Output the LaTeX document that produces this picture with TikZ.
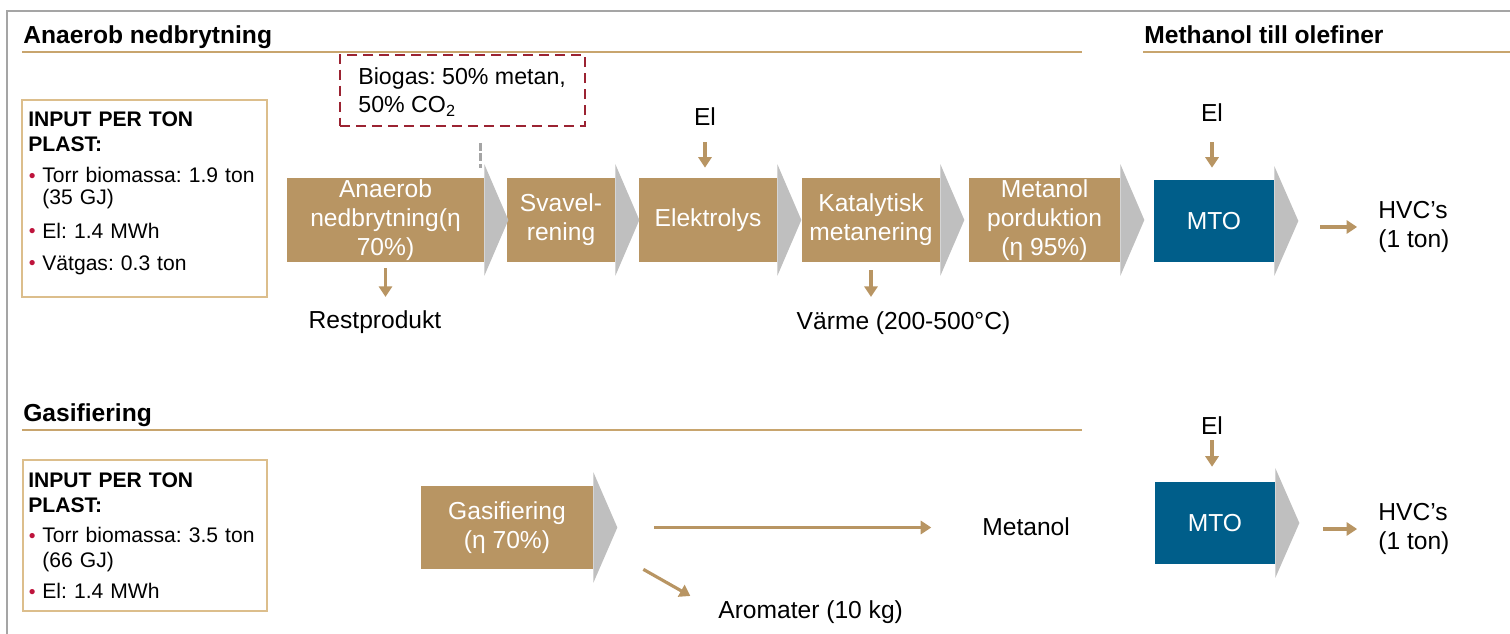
\documentclass[tikz,border=0pt]{standalone}
\usepackage{fontspec}
\setmainfont{Liberation Sans}
\usetikzlibrary{arrows.meta,calc}

\definecolor{procTan}{RGB}{184,149,99}
\definecolor{mtoBlue}{RGB}{0,94,138}
\definecolor{chevGray}{RGB}{191,191,191}
\definecolor{ruleTan}{RGB}{200,165,110}
\definecolor{frameTan}{RGB}{220,190,140}
\definecolor{noteRed}{RGB}{155,35,50}
\definecolor{bulRed}{RGB}{190,20,60}
\definecolor{edgeGray}{RGB}{165,165,165}

\newcommand{\bul}{\makebox[8pt][l]{\hspace{0.3pt}\raisebox{0.4pt}{\textcolor{bulRed}{\fontsize{11}{11}\selectfont\textbullet}}}}
\newcommand{\chevron}[1]{%
  \fill[chevGray] ($(#1.north east)+(0,-13.5)$) -- ($(#1.east)+(24,0)$) coordinate (#1-tip)
    -- ($(#1.south east)+(0,13.5)$) -- cycle;}

\tikzset{
  procbox/.style={fill=procTan, text=white, align=center, inner sep=0pt,
    minimum height=1.68cm, font=\fontsize{14}{16.5}\selectfont},
  mtobox/.style={procbox, fill=mtoBlue, minimum height=1.64cm},
  flow/.style={draw=procTan, line width=1.8pt, -{Triangle[width=7.5pt,length=6pt]}},
  lbl/.style={inner sep=0pt, font=\fontsize{14}{16}\selectfont},
  sect/.style={inner sep=0pt, anchor=base west, font=\fontsize{14}{16}\selectfont\bfseries},
  sectrule/.style={draw=ruleTan, line width=1.4pt},
  inframe/.style={draw=frameTan, line width=0.9pt, inner sep=0pt},
  intext/.style={inner sep=0pt, anchor=north west, align=left, text width=4.75cm,
    font=\fontsize{12}{12}\selectfont},
  bionote/.style={draw=noteRed, line width=1.3pt, dash pattern=on 5.7pt off 3.4pt,
    minimum width=4.9cm, minimum height=1.42cm, inner sep=0pt},
  biotext/.style={inner sep=0pt, anchor=north west, align=left,
    font=\fontsize{13.2}{15.9}\selectfont},
  biolink/.style={draw=edgeGray, line width=1.5pt, dash pattern=on 4.5pt off 1.5pt},
}

\begin{document}
\frenchspacing
\begin{tikzpicture}[x=0.02cm, y=-0.02cm]
  \useasboundingbox (0,0) rectangle (1510,634);
  \draw[edgeGray, line width=1.1pt] (7,634) -- (7,11) -- (1510,11);

  \node[sect] (t-anaerob) at (23,44) {Anaerob nedbrytning};
  \node[sect] (t-mto) at (1144,44) {Methanol till olefiner};
  \node[sect] (t-gas) at (23,421) {Gasifiering};
  \draw[sectrule] (22,52) -- (1082,52);
  \draw[sectrule] (1143,52) -- (1510,52);
  \draw[sectrule] (22,430) -- (1082,430);

  \node[inframe, minimum width=4.9cm, minimum height=3.94cm] (in-anaerob) at (144.5,198.5) {};
  \node[intext] (in-anaerob-txt) at (28,111) {%
    \textbf{INPUT PER TON}\\[2.7pt]
    \textbf{PLAST:}\\[5.6pt]
    \bul Torr biomassa: 1.9 ton\\[0.5pt]
    \hspace*{8pt}(35 GJ)\\[7.3pt]
    \bul El: 1.4 MWh\\[6.1pt]
    \bul Vätgas: 0.3 ton};

  \node[inframe, minimum width=4.88cm, minimum height=3.02cm] (in-gas) at (145,535.5) {};
  \node[intext] (in-gas-txt) at (28,472) {%
    \textbf{INPUT PER TON}\\[2.2pt]
    \textbf{PLAST:}\\[5.6pt]
    \bul Torr biomassa: 3.5 ton\\[2.2pt]
    \hspace*{8pt}(66 GJ)\\[5.6pt]
    \bul El: 1.4 MWh};

  \node[bionote] (biogas) at (462.5,90.5) {};
  \node[biotext] (biogas-txt) at (358,67) {Biogas: 50\% metan,\\50\% CO\textsubscript{2}};

  \node[procbox, minimum width=3.94cm] (b1) at (385.5,220) {Anaerob\\nedbrytning(η\\70\%)};
  \node[procbox, minimum width=2.16cm] (b2) at (561,220) {Svavel-\\rening};
  \node[procbox, minimum width=2.76cm] (b3) at (708,220) {Elektrolys};
  \node[procbox, minimum width=2.76cm] (b4) at (871,220) {Katalytisk\\metanering};
  \node[procbox, minimum width=3.02cm] (b5) at (1044.5,220) {Metanol\\porduktion\\(η 95\%)};
  \node[mtobox, minimum width=2.4cm] (mto1) at (1214,221) {MTO};
  \node[procbox, minimum width=3.44cm, minimum height=1.66cm] (gas) at (507,527.5) {Gasifiering\\(η 70\%)};
  \node[mtobox, minimum width=2.4cm] (mto2) at (1215,523) {MTO};

  \foreach \n in {b1,b2,b3,b4,b5,mto1,gas,mto2}
    \chevron{\n};

  \coordinate (bio-tap) at ($(b1.north east)+(-4,0)$);
  \draw[biolink, shorten <=9pt, shorten >=5.7pt] (bio-tap |- biogas.south) -- (bio-tap);

  \node[lbl, anchor=base] (el-elek) at (705,126) {El};
  \node[lbl, anchor=base] (el-mto1) at (1212,122) {El};
  \node[lbl, anchor=base] (el-mto2) at (1212,435) {El};
  \draw[flow, shorten <=9.1pt, shorten >=5.7pt] (el-elek.south) -- (el-elek.south |- b3.north);
  \draw[flow, shorten <=11.3pt, shorten >=6.8pt] (el-mto1.south) -- (el-mto1.south |- mto1.north);
  \draw[flow, shorten <=2.8pt, shorten >=8.5pt] (el-mto2.south) -- (el-mto2.south |- mto2.north);

  \node[lbl, anchor=base] (rest) at (375,329) {Restprodukt};
  \node[lbl, anchor=base] (vaerme) at (903.5,330) {Värme (200-500°C)};
  \draw[flow, shorten <=3.4pt, shorten >=7.9pt] (b1.south) -- (b1.south |- rest.north);
  \draw[flow, shorten <=4.5pt, shorten >=8.5pt] (b4.south) -- (b4.south |- vaerme.north);

  \node[lbl, anchor=base west] (metanol) at (982,535) {Metanol};
  \node[lbl, anchor=base west] (aro) at (718,618) {Aromater (10 kg)};
  \draw[flow, shorten <=21pt, shorten >=28.9pt] (gas-tip) -- (gas-tip -| metanol.west);
  \coordinate (aro-start) at ($(gas.south east)+(50,0)$);
  \draw[flow, shorten >=18.1pt] (aro-start) -- (aro.west);

  \node[lbl, anchor=west, align=left] (hvc1) at (1378,227) {HVC’s\\(1 ton)};
  \node[lbl, anchor=west, align=left] (hvc2) at (1378,529) {HVC’s\\(1 ton)};
  \draw[flow, shorten <=12.5pt, shorten >=11.9pt] (mto1-tip |- hvc1.west) -- (hvc1.west);
  \draw[flow, shorten <=13.6pt, shorten >=11.9pt] (mto2-tip |- hvc2.west) -- (hvc2.west);
\end{tikzpicture}
\end{document}
